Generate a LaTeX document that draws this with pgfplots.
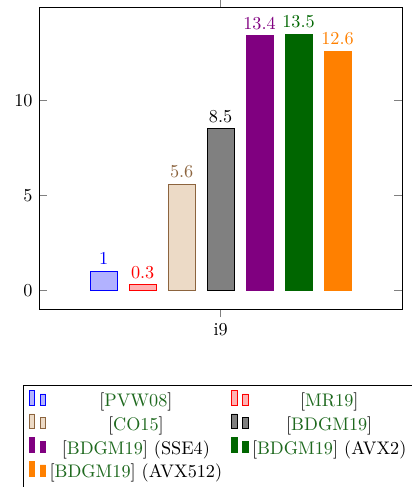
\documentclass[border=0pt]{standalone}
\usepackage{pgfplots}
\pgfplotsset{compat=1.18}
\usetikzlibrary{calc}
\definecolor{cg}{RGB}{30,105,30}
\definecolor{dgreen}{RGB}{0,102,0}
\definecolor{myorange}{RGB}{255,128,0}
\definecolor{mybrown}{RGB}{140,100,62}
\definecolor{lbrown}{RGB}{236,218,198}
\newcommand{\cit}[1]{{[}\textcolor{cg}{#1}{]}}
\begin{document}
\begin{tikzpicture}
\begin{axis}[
  at={(0,0)}, anchor=south west,
  scale only axis,
  width=199.5pt, height=165.9pt,
  ybar=6.7pt, bar width=14.7pt,
  xmin=-1, xmax=1, ymin=-1, ymax=14.9,
  xtick={0}, xticklabels={i9},
  xtick align=outside,
  ytick={0,5,10},
  tick style={gray, thin},
  nodes near coords,
  legend columns=2,
  legend cell align=center,
  legend style={at={(0,0)}, anchor=north west, xshift=-8.8pt, yshift=-41.8pt, draw=black,
    /tikz/column 2/.style={column sep=3pt}},
]
\addplot[color=blue, fill=blue!30] coordinates {(0,1)};
\addlegendentry{\cit{PVW08}}
\addplot[color=red, fill=red!30] coordinates {(0,0.3)};
\addlegendentry{\cit{MR19}}
\addplot[color=mybrown, fill=lbrown] coordinates {(0,5.6)};
\addlegendentry{\cit{CO15}}
\addplot[color=black, fill=gray] coordinates {(0,8.5)};
\addlegendentry{\cit{BDGM19}}
\addplot[color=violet, fill=violet] coordinates {(0,13.4)};
\addlegendentry{\cit{BDGM19} (SSE4)}
\addplot[color=dgreen, fill=dgreen] coordinates {(0,13.5)};
\addlegendentry{\cit{BDGM19} (AVX2)}
\addplot[color=myorange, fill=myorange] coordinates {(0,12.6)};
\addlegendentry{\cit{BDGM19} (AVX512)}
\end{axis}
\pgfresetboundingbox
\path[use as bounding box] (-21.43pt,-97.6pt) rectangle (204.4pt,169.9pt);
\end{tikzpicture}
\end{document}
